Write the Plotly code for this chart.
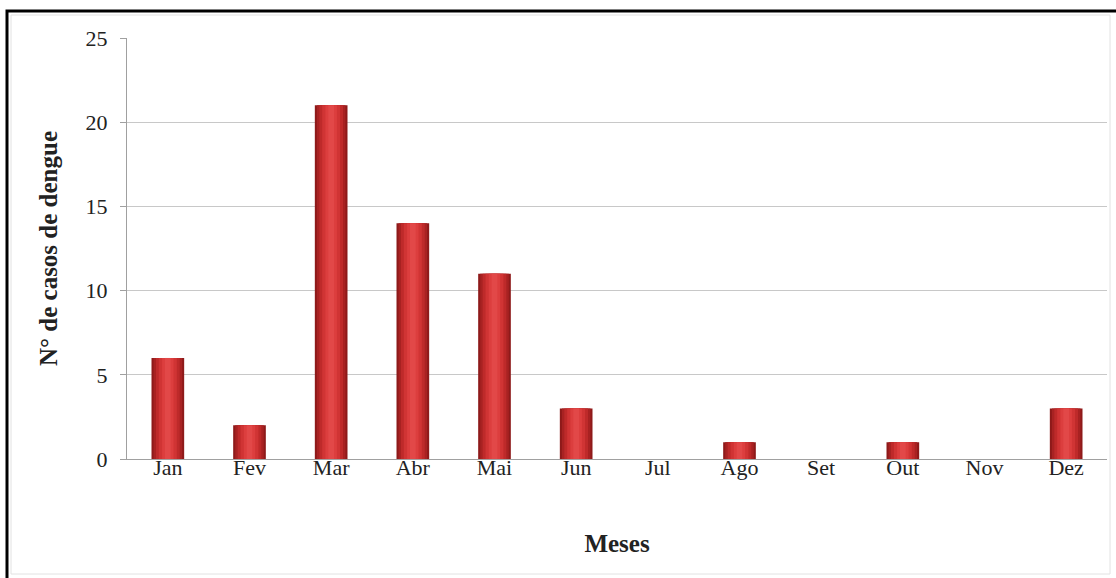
import plotly.graph_objects as go

meses = ["Jan", "Fev", "Mar", "Abr", "Mai", "Jun", "Jul", "Ago", "Set", "Out", "Nov", "Dez"]
casos = [6, 2, 21, 14, 11, 3, 0, 1, 0, 1, 0, 3]
y_ticks = [0, 5, 10, 15, 20, 25]

FONT = "Liberation Serif, Times New Roman, serif"

# layered bars of decreasing width give a rounded, cylinder-like shading
layers = [
    (0.40, "#8E1A1A"),
    (0.35, "#A82222"),
    (0.29, "#BE2A2A"),
    (0.22, "#D03434"),
    (0.14, "#DC3E3E"),
    (0.07, "#E24848"),
]

fig = go.Figure()
for w, c in layers:
    fig.add_trace(go.Bar(
        x=meses, y=casos, width=w,
        marker=dict(color=c, line=dict(width=0)),
        hoverinfo="x+y", showlegend=False,
    ))

fig.update_layout(
    barmode="overlay",
    width=1116, height=578,
    margin=dict(l=127, r=9, t=38, b=119),
    paper_bgcolor="white",
    plot_bgcolor="white",
    font=dict(family=FONT, size=22, color="#222222"),
    xaxis=dict(
        range=[-0.5, 11.5],
        showgrid=False,
        showline=True, linecolor="#A0A0A0", linewidth=1,
        ticks="", tickfont=dict(size=22),
        ticklabelstandoff=-11,
        title=dict(text="<b>Meses</b>", font=dict(size=25), standoff=55),
    ),
    yaxis=dict(
        range=[0, 25],
        tickvals=y_ticks,
        showgrid=True, gridcolor="#C8C8C8", gridwidth=1,
        showline=True, linecolor="#A0A0A0", linewidth=1,
        ticks="outside", ticklen=6, tickcolor="#A0A0A0",
        tickfont=dict(size=22),
        ticklabelstandoff=8,
        zeroline=False,
        title=dict(text="<b>N° de casos de dengue</b>", font=dict(size=25), standoff=20),
    ),
    shapes=[
        # outer frame around the chart area
        dict(type="rect", xref="paper", yref="paper",
             x0=(7 - 127) / 980, x1=(1130 - 127) / 980,
             y0=(459 - 600) / 421, y1=(459 - 11) / 421,
             line=dict(color="black", width=3), layer="above"),
        dict(type="rect", xref="paper", yref="paper",
             x0=(11 - 127) / 980, x1=(1110 - 127) / 980,
             y0=(459 - 574) / 421, y1=(459 - 15) / 421,
             line=dict(color="#E2E2E2", width=1), layer="below"),
    ],
)

fig.write_html("out.html")
